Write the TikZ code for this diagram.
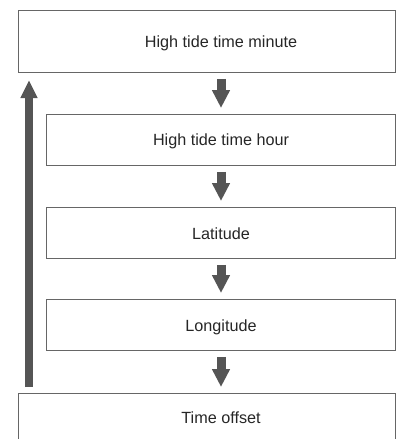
\documentclass[tikz,border=0pt]{standalone}
\usepackage{fontspec}
\setmainfont{Liberation Sans}
\usetikzlibrary{arrows.meta}
\definecolor{boxline}{HTML}{666666}
\definecolor{arrowgray}{HTML}{555555}
\begin{document}
\begin{tikzpicture}[x=1pt,y=-1pt,
  box/.style={draw=boxline,line width=0.9pt,inner sep=0pt,anchor=north west},
  lbl/.style={font=\fontsize{16.2}{19}\selectfont,text=black!85,inner sep=0pt},
  flow/.style={draw=arrowgray,line width=9pt,-{Triangle[width=17pt,length=18pt]},shorten <=6pt,shorten >=6pt},
  back/.style={draw=arrowgray,line width=7.5pt,-{Triangle[width=16pt,length=18pt]}}]
\useasboundingbox (0,0) rectangle (400,439);
\begin{scope}
\clip (0,0) rectangle (400,439);
\node[box,minimum width=377pt,minimum height=62pt] (b1) at (18,10) {};
\node[box,minimum width=349pt,minimum height=51pt] (b2) at (46,114) {};
\node[box,minimum width=349pt,minimum height=51pt] (b3) at (46,207) {};
\node[box,minimum width=349pt,minimum height=51pt] (b4) at (46,299) {};
\node[box,minimum width=377pt,minimum height=62pt] (b5) at (18,393) {};
\end{scope}
\node[lbl] (t1) at (221,43) {High tide time minute};
\node[lbl] (t2) at (221,141) {High tide time hour};
\node[lbl] (t3) at (221,234) {Latitude};
\node[lbl] (t4) at (221,327) {Longitude};
\node[lbl] (t5) at (221,418) {Time offset};
\draw[flow] (b1.south -| t1) -- (b2.north -| t2);
\draw[flow] (b2.south -| t2) -- (b3.north -| t3);
\draw[flow] (b3.south -| t3) -- (b4.north -| t4);
\draw[flow] (b4.south -| t4) -- (b5.north -| t5);
\coordinate (up0) at (29,387);
\coordinate (up1) at (29,80);
\draw[back] (up0) -- (up1);
\end{tikzpicture}
\end{document}
